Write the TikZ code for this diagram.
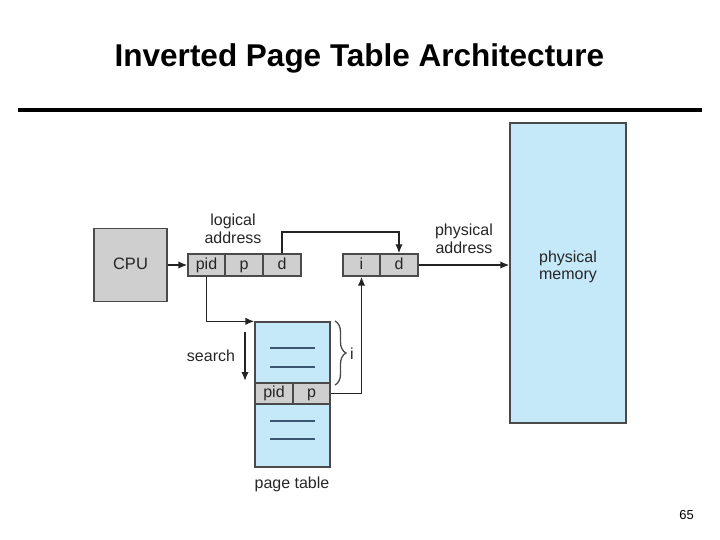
\documentclass[tikz,border=0pt]{standalone}
\usepackage{fontspec}
\setmainfont{Liberation Sans}
\usetikzlibrary{arrows.meta,decorations.pathreplacing}
\definecolor{boxgray}{HTML}{CFCFCF}
\definecolor{boxblue}{HTML}{C6E9F9}
\definecolor{edgegray}{HTML}{4A4A4A}
\definecolor{tline}{HTML}{3A5670}
\definecolor{arrcol}{HTML}{222222}
\begin{document}
\begin{tikzpicture}[x=1pt,y=-1pt,
  cell/.style={draw=edgegray,line width=1.3pt,fill=boxgray,inner sep=0pt,minimum height=22pt,font=\fontsize{16}{18}\selectfont,text=black!85,text height=11.5pt,text depth=3.5pt},
  bluebox/.style={draw=edgegray,line width=1.3pt,fill=boxblue,inner sep=0pt},
  lbl/.style={font=\fontsize{16}{17.5}\selectfont,align=center,text=black!85,inner sep=0pt},
  arr/.style={draw=arrcol,line width=1.7pt,-{Latex[length=9pt,width=7.5pt]}}]
\useasboundingbox (0,0) rectangle (720,540);
% title
\node[anchor=base,inner sep=0pt,font=\fontsize{31.5}{36}\selectfont\bfseries] (title) at (359.5,67) {Inverted Page Table Architecture};
\draw[line width=4pt] (18,110) -- (702,110);
% CPU
\node[cell,minimum width=73pt,minimum height=73pt,font=\fontsize{16.5}{18}\selectfont] (cpu) at (130.5,265) {CPU};
% logical address register
\node[cell,minimum width=37pt] (pid) at (206.5,265) {pid};
\node[cell,minimum width=38pt] (p) at (244,265) {p};
\node[cell,minimum width=38pt] (d) at (282,265) {d};
% physical address register
\node[cell,minimum width=37pt] (i) at (361.5,265) {i};
\node[cell,minimum width=38pt] (d2) at (399,265) {d};
% page table
\node[bluebox,minimum width=75pt,minimum height=145pt] (table) at (292.5,394.5) {};
\node[cell,minimum width=38pt,minimum height=21pt] (pid2) at (274,393.5) {pid};
\node[cell,minimum width=37pt,minimum height=21pt] (p2) at (311.5,393.5) {p};
\foreach \yy in {348,367,421,439}{\draw[tline,line width=1.3pt] (270,\yy) -- (315,\yy);}
% physical memory
\node[bluebox,minimum width=116pt,minimum height=300pt] (mem) at (568,273) {};
\node[lbl] (memlbl) at (568,267) {physical\\memory};
% labels
\node[lbl] (lalbl) at (233,229) {logical\\address};
\node[lbl] (palbl) at (464,239) {physical\\address};
\node[lbl] (ptlbl) at (292,484) {page table};
\node[lbl] (srch) at (211,356) {search};
\node[lbl] (ilbl) at (352,354) {i};
\node[anchor=base,inner sep=0pt,font=\fontsize{13}{14}\selectfont] (pnum) at (686.5,519) {65};
% connectors
\draw[arr] (cpu.east) -- (pid.west);
\draw[arr] (pid.south) |- (table.north west);
\draw[arr] (d.north) -- ++(0,-21) -| (d2.north);
\draw[arr] (p2.east) -| (i.south);
\draw[arr] (d2.east) -- (d2.east -| mem.west);
\coordinate (s1) at (245,332);
\coordinate (s2) at (245,381);
\draw[arr] (s1) -- (s2);
\coordinate (b1) at (335,321);
\coordinate (b2) at (335,385);
\draw[edgegray,line width=1.3pt,decorate,decoration={brace,amplitude=11pt}] (b1) -- (b2);
\end{tikzpicture}
\end{document}
